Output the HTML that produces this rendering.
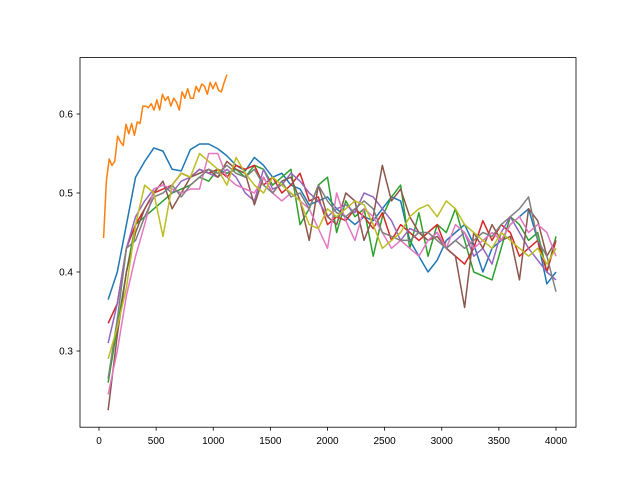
<!DOCTYPE html>
<html><head><meta charset="utf-8"><style>
body{margin:0;background:#fff;}
svg text{font-family:"Liberation Sans","DejaVu Sans",sans-serif;font-size:10px;fill:#000;}
</style></head><body>
<svg id="chart" width="640" height="480" xmlns="http://www.w3.org/2000/svg">
<rect x="0" y="0" width="640" height="480" fill="#fff"/>
<g id="series"></g>
<rect x="80" y="57.6" width="496" height="369.6" fill="none" stroke="#000" stroke-width="0.8"/>
<g id="axes"></g>
</svg>
<script>
const xTicks=[0,500,1000,1500,2000,2500,3000,3500,4000];
const yTicks=[0.3,0.4,0.5,0.6];
const colors=["#1f77b4","#2ca02c","#d62728","#9467bd","#8c564b","#e377c2","#7f7f7f","#bcbd22"];
const names=["blue","green","red","purple","brown","pink","gray","olive"];
const orangeVals=[0.443,0.515,0.543,0.535,0.54,0.572,0.565,0.56,0.587,0.575,0.588,0.573,0.59,0.588,0.61,0.61,0.608,0.613,0.605,0.618,0.605,0.625,0.617,0.622,0.61,0.62,0.615,0.605,0.628,0.62,0.632,0.62,0.62,0.635,0.628,0.638,0.635,0.625,0.64,0.632,0.64,0.63,0.628,0.64,0.65];
const orangeStart=40, orangeEnd=1120;
const seriesStart=80, seriesStep=80;
const blue=[0.365,0.40,0.46,0.52,0.54,0.557,0.553,0.53,0.528,0.555,0.562,0.562,0.556,0.547,0.535,0.528,0.545,0.535,0.52,0.525,0.51,0.505,0.485,0.49,0.495,0.48,0.47,0.46,0.47,0.465,0.48,0.495,0.49,0.44,0.42,0.40,0.415,0.44,0.45,0.46,0.435,0.40,0.43,0.44,0.46,0.47,0.48,0.44,0.385,0.40];
const green=[0.26,0.33,0.40,0.46,0.47,0.48,0.49,0.50,0.505,0.51,0.52,0.515,0.53,0.525,0.53,0.52,0.535,0.53,0.51,0.52,0.53,0.46,0.48,0.51,0.52,0.45,0.49,0.47,0.48,0.42,0.47,0.495,0.51,0.43,0.475,0.42,0.46,0.45,0.48,0.44,0.40,0.395,0.39,0.43,0.47,0.46,0.44,0.45,0.40,0.445];
const red=[0.335,0.36,0.43,0.46,0.48,0.50,0.505,0.51,0.525,0.52,0.53,0.525,0.53,0.52,0.535,0.53,0.535,0.51,0.52,0.50,0.51,0.525,0.49,0.495,0.46,0.47,0.465,0.48,0.47,0.455,0.475,0.44,0.46,0.45,0.44,0.45,0.46,0.43,0.42,0.41,0.43,0.465,0.44,0.46,0.45,0.42,0.43,0.44,0.40,0.44];
const purple=[0.31,0.36,0.43,0.47,0.49,0.505,0.51,0.50,0.515,0.52,0.53,0.525,0.52,0.53,0.52,0.50,0.49,0.53,0.505,0.51,0.525,0.515,0.50,0.49,0.47,0.48,0.485,0.475,0.50,0.495,0.48,0.465,0.44,0.455,0.45,0.44,0.45,0.43,0.44,0.45,0.42,0.43,0.41,0.45,0.47,0.45,0.43,0.415,0.40,0.39];
const brown=[0.225,0.32,0.40,0.45,0.48,0.50,0.515,0.48,0.50,0.52,0.525,0.53,0.52,0.54,0.53,0.525,0.485,0.52,0.50,0.515,0.52,0.49,0.44,0.51,0.47,0.46,0.50,0.49,0.44,0.47,0.535,0.49,0.505,0.47,0.45,0.44,0.445,0.43,0.42,0.355,0.45,0.43,0.46,0.44,0.445,0.39,0.48,0.465,0.42,0.44];
const pink=[0.245,0.30,0.37,0.42,0.46,0.505,0.51,0.505,0.50,0.505,0.505,0.55,0.55,0.52,0.51,0.505,0.50,0.52,0.50,0.49,0.50,0.49,0.48,0.455,0.43,0.50,0.465,0.44,0.48,0.47,0.45,0.43,0.44,0.43,0.42,0.44,0.45,0.43,0.46,0.45,0.43,0.44,0.45,0.44,0.46,0.47,0.45,0.46,0.45,0.42];
const gray=[0.265,0.34,0.43,0.44,0.47,0.495,0.50,0.51,0.495,0.51,0.52,0.53,0.525,0.535,0.525,0.52,0.53,0.51,0.50,0.515,0.495,0.50,0.48,0.51,0.49,0.475,0.47,0.48,0.49,0.48,0.45,0.445,0.44,0.44,0.45,0.45,0.44,0.43,0.44,0.43,0.44,0.45,0.445,0.46,0.47,0.48,0.495,0.44,0.42,0.375];
const olive=[0.29,0.33,0.38,0.46,0.51,0.50,0.445,0.51,0.525,0.52,0.55,0.54,0.53,0.51,0.545,0.525,0.51,0.50,0.52,0.51,0.50,0.49,0.46,0.455,0.48,0.47,0.48,0.49,0.485,0.46,0.43,0.44,0.45,0.47,0.48,0.485,0.47,0.49,0.48,0.46,0.45,0.44,0.43,0.45,0.44,0.43,0.42,0.43,0.41,0.43];
const allSeries=[blue,green,red,purple,brown,pink,gray,olive];

const NS="http://www.w3.org/2000/svg";
function xs(v){return 99+v*0.11425;}
function ys(v){return 351-(v-0.3)*790;}
const sg=document.getElementById('series'), ag=document.getElementById('axes');
function line(pts,color,name){
  const p=document.createElementNS(NS,'polyline');
  p.setAttribute('points',pts.map(q=>xs(q[0]).toFixed(2)+','+ys(q[1]).toFixed(2)).join(' '));
  p.setAttribute('fill','none');p.setAttribute('stroke',color);p.setAttribute('stroke-width','1.5');p.setAttribute('stroke-linejoin','round');
  
  
  sg.appendChild(p);
}
allSeries.forEach((s,i)=>{
  line(s.map((v,j)=>[seriesStart+j*seriesStep,v]),colors[i],'series-'+names[i]);
  if(i===0){
    line(orangeVals.map((v,j)=>[orangeStart+j*(orangeEnd-orangeStart)/(orangeVals.length-1),v]),"#ff7f0e",'series-orange');
  }
});
xTicks.forEach(t=>{
  const x=xs(t);
  const l=document.createElementNS(NS,'line');
  l.setAttribute('x1',x);l.setAttribute('x2',x);l.setAttribute('y1',427.2);l.setAttribute('y2',430.7);l.setAttribute('stroke','#000');l.setAttribute('stroke-width','0.8');
  
  
  ag.appendChild(l);
  const tx=document.createElementNS(NS,'text');
  tx.setAttribute('x',x);tx.setAttribute('y',444);tx.setAttribute('text-anchor','middle');tx.textContent=t;
  
  
  ag.appendChild(tx);
});
yTicks.forEach(t=>{
  const y=ys(t);
  const l=document.createElementNS(NS,'line');
  l.setAttribute('x1',76.5);l.setAttribute('x2',80);l.setAttribute('y1',y);l.setAttribute('y2',y);l.setAttribute('stroke','#000');l.setAttribute('stroke-width','0.8');
  
  
  ag.appendChild(l);
  const tx=document.createElementNS(NS,'text');
  tx.setAttribute('x',73);tx.setAttribute('y',y+3.5);tx.setAttribute('text-anchor','end');tx.textContent=t.toFixed(1);
  
  
  ag.appendChild(tx);
});
</script>
</body></html>
